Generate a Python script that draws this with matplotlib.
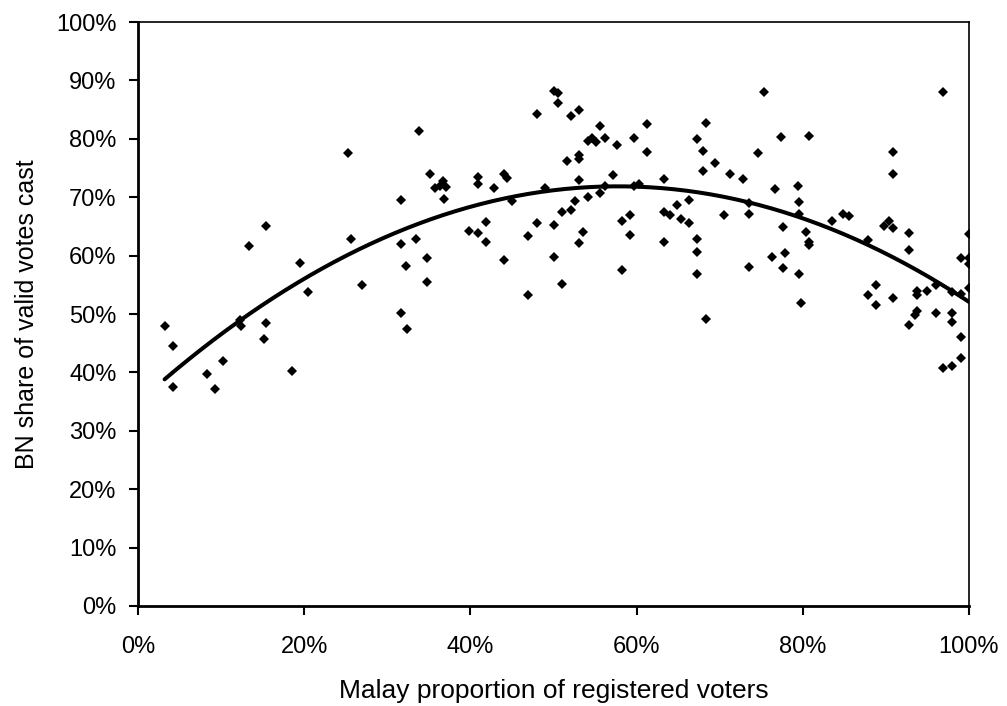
import numpy as np
import matplotlib
matplotlib.use("Agg")
import matplotlib.pyplot as plt
from matplotlib.ticker import PercentFormatter

# Malay proportion of registered voters (%)
malay_pct = [
    3.2, 4.2, 4.2, 8.3, 9.3, 10.2, 12.4, 12.3, 13.4, 15.4, 15.4, 15.2, 18.5, 19.5, 20.5,
    25.3, 25.6, 26.9, 31.7, 31.7, 32.3, 31.7, 32.4, 33.4, 33.8, 34.8, 34.8, 35.1, 35.7,
    36.7, 36.3, 37.1, 36.8, 39.8, 40.9, 40.9, 40.9, 41.9, 41.9, 42.9, 44.0, 44.4, 44.0,
    45.0, 46.9, 46.9, 48.0, 48.0, 49.0, 50.0, 50.6, 50.6, 50.0, 50.0, 51.0, 51.0, 51.6,
    52.1, 53.1, 53.1, 53.1, 52.6, 52.1, 53.1, 53.6, 53.1, 54.2, 54.6, 55.1, 55.6, 56.2,
    54.2, 55.6, 56.2, 57.6, 57.2, 58.2, 59.2, 59.2, 58.2, 59.7, 61.2, 61.2, 59.7, 60.3,
    63.3, 63.3, 63.3, 64.0, 64.9, 65.3, 66.3, 66.3, 67.3, 67.3, 67.3, 67.3,
    68.3, 68.0, 69.4, 68.0, 68.3, 70.5, 71.2, 72.8, 73.5, 73.5, 73.5, 74.6, 75.3, 76.6,
    77.4, 77.6, 76.3, 77.8, 77.6, 79.4, 79.6, 79.6, 79.6, 79.8, 80.8, 80.4, 80.7, 80.8,
    83.5, 84.8, 85.6, 87.8, 88.8, 87.8, 88.8, 89.8, 90.4, 90.8, 90.8, 90.8, 90.8, 92.8,
    92.8, 92.8, 93.8, 93.8, 93.8, 93.5, 94.9, 96.0, 96.0, 96.9, 96.9, 98.0, 98.0, 98.0,
    98.0, 99.0, 99.0, 99.0, 99.0, 100.0, 100.0, 100.0, 100.0,
]
# BN share of valid votes cast (%)
bn_share = [
    47.9, 44.5, 37.5, 39.8, 37.2, 41.9, 47.9, 48.9, 61.6, 65.0, 48.4, 45.7, 40.2, 58.7, 53.7,
    77.5, 62.8, 54.9, 69.5, 62.0, 58.2, 50.1, 47.4, 62.8, 81.3, 59.6, 55.4, 74.0, 71.5,
    72.8, 71.9, 71.8, 69.7, 64.2, 73.5, 72.3, 63.8, 65.7, 62.4, 71.5, 73.9, 73.3, 59.3,
    69.4, 63.3, 53.3, 84.3, 65.5, 71.5, 88.2, 87.9, 86.1, 65.2, 59.8, 55.2, 67.4, 76.2,
    83.9, 84.9, 77.2, 76.6, 69.4, 67.8, 72.9, 64.0, 62.1, 79.6, 80.2, 79.5, 82.2, 80.1,
    70.1, 70.8, 71.9, 78.9, 73.8, 65.9, 67.0, 63.5, 57.6, 80.2, 82.6, 77.8, 71.9, 72.3,
    73.1, 67.4, 62.3, 67.0, 68.7, 66.3, 65.6, 69.5, 80.0, 62.8, 60.6, 56.8,
    82.7, 77.9, 75.8, 74.5, 49.1, 66.9, 73.9, 73.2, 67.2, 69.0, 58.1, 77.6, 88.0, 71.4,
    80.3, 64.9, 59.8, 60.4, 57.9, 71.9, 69.2, 67.2, 56.9, 51.8, 80.5, 64.0, 62.3, 61.8,
    65.9, 67.2, 66.8, 62.6, 55.0, 53.3, 51.5, 65.0, 66.0, 64.8, 77.8, 74.0, 52.8, 63.8,
    61.0, 48.2, 54.0, 53.2, 50.5, 49.9, 54.0, 54.9, 50.2, 40.7, 88.0, 41.1, 53.7, 50.1,
    48.6, 46.1, 42.5, 59.6, 53.5, 63.7, 59.6, 58.5, 54.4,
]

x = np.array(malay_pct) / 100.0
y = np.array(bn_share) / 100.0

plt.rcParams['font.family'] = ['Liberation Sans', 'DejaVu Sans']

fig = plt.figure(figsize=(10.07, 7.06), dpi=100)
ax = fig.add_axes([138 / 1007, 1 - 606 / 706, (969 - 138) / 1007, (606 - 22) / 706])

ax.plot(x, y, linestyle='none', marker='D', markersize=5.2, color='black',
        markeredgewidth=0, zorder=3)

# quadratic trend line fitted to the data
coef = np.polyfit(x, y, 2)
xs = np.linspace(x.min(), x.max(), 200)
ax.plot(xs, np.polyval(coef, xs), color='black', linewidth=2.9, zorder=4,
        solid_capstyle='round')

ax.set_xlim(0, 1)
ax.set_ylim(0, 1)
ax.set_xticks(np.arange(0, 1.01, 0.2))
ax.set_yticks(np.arange(0, 1.01, 0.1))
ax.xaxis.set_major_formatter(PercentFormatter(1.0, decimals=0))
ax.yaxis.set_major_formatter(PercentFormatter(1.0, decimals=0))

ax.tick_params(axis='both', direction='out', length=6.5, width=1.5, labelsize=17,
               colors='black')
ax.tick_params(axis='x', pad=15)
ax.tick_params(axis='y', pad=9)

for side in ['left', 'bottom']:
    ax.spines[side].set_linewidth(2.0)
for side in ['top', 'right']:
    ax.spines[side].set_linewidth(1.2)

ax.set_xlabel('Malay proportion of registered voters', fontsize=19, labelpad=15)
ax.set_ylabel('BN share of valid votes cast', fontsize=18, labelpad=12)

fig.savefig('out.png', dpi=100)
